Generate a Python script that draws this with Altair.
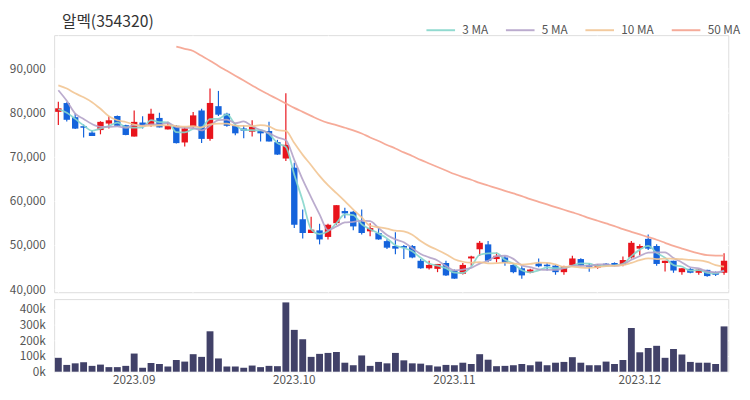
import altair as alt
import pandas as pd

# Trading days (Korea) Aug 21 – Dec 15, 2023
aug = [21, 22, 23, 24, 25, 28, 29, 30, 31]
sep = [1, 4, 5, 6, 7, 8, 11, 12, 13, 14, 15, 18, 19, 20, 21, 22, 25, 26, 27]
oct_ = [4, 5, 6, 10, 11, 12, 13, 16, 17, 18, 19, 20, 23, 24, 25, 26, 27, 30, 31]
nov = [1, 2, 3, 6, 7, 8, 9, 10, 13, 14, 15, 16, 17, 20, 21, 22, 23, 24, 27, 28, 29, 30]
dec = [1, 4, 5, 6, 7, 8, 11, 12, 13, 14, 15]
dates = ([f"2023-08-{d:02d}" for d in aug] + [f"2023-09-{d:02d}" for d in sep]
         + [f"2023-10-{d:02d}" for d in oct_] + [f"2023-11-{d:02d}" for d in nov]
         + [f"2023-12-{d:02d}" for d in dec])

title_text = ["알멕(354320)"]

opens = [80200, 82200, 79000, 76950, 75500, 76070, 77550, 79260, 77180, 74600,
         77780, 77180, 78820, 76220, 77040, 73260, 76820, 80510, 74070, 81490,
         79780, 77180, 76440, 75700, 75850, 75850, 73330, 69620, 67550, 55840,
         52730, 53330, 51840, 54960, 57710, 57550, 55330, 53110, 52730, 50890,
         49780, 49780, 49780, 46440, 44730, 44600, 45930, 44220, 43490, 46960,
         49040, 50150, 46820, 47180, 45490, 44730, 43710, 45840, 45550, 45330,
         43850, 45490, 46820, 45490, 44890, 45780, 45930, 45490, 47180, 49180,
         51400, 49780, 45930, 46440, 43850, 44600, 43710, 44370, 43850, 43710]
highs = [82500, 82400, 79800, 77330, 76060, 78070, 79260, 79400, 77300, 80510,
         79190, 80890, 80000, 77930, 77200, 76740, 80150, 80890, 85490, 84950,
         80000, 77600, 77180, 78290, 76060, 77930, 73850, 84440, 68660, 58060,
         56440, 54820, 54820, 59040, 58440, 57710, 58060, 54960, 54000, 51300,
         52890, 50000, 50000, 46820, 46440, 45710, 46440, 44440, 45930, 47560,
         50890, 50890, 48290, 47560, 45700, 45180, 44600, 46960, 45930, 45490,
         45330, 47560, 47000, 45930, 45700, 45930, 46070, 47400, 50890, 50150,
         52370, 50150, 46440, 46440, 44730, 44730, 44600, 44370, 44000, 48150]
lows = [77200, 78000, 76300, 74370, 74730, 75110, 76440, 77000, 74900, 74600,
        76440, 76820, 76670, 76220, 73000, 72370, 76600, 73110, 73620, 79260,
        76800, 74900, 74220, 74600, 73480, 73480, 70440, 69040, 53840, 51490,
        52730, 50150, 51270, 54600, 56070, 53330, 52370, 52000, 51200, 49100,
        47930, 46820, 47000, 44600, 44440, 43850, 42960, 42380, 43330, 45330,
        47560, 46070, 46070, 45330, 43600, 42380, 43600, 44960, 44220, 43260,
        43260, 45180, 45180, 43930, 44600, 45180, 45180, 45180, 46960, 47710,
        48890, 45330, 44000, 43710, 43260, 43600, 43260, 42820, 42960, 43260]
closes = [81000, 78400, 76400, 76600, 74730, 77930, 78290, 77040, 74960, 77930,
          77180, 79780, 76670, 77040, 73110, 76440, 79400, 74070, 82220, 79560,
          77040, 75330, 75930, 76820, 75330, 73480, 70510, 72730, 54600, 52730,
          53490, 51270, 54600, 59040, 57180, 54220, 52730, 53850, 51270, 49400,
          49180, 49400, 47180, 44730, 45490, 45710, 43110, 42380, 45490, 47400,
          50510, 46440, 47560, 45930, 43850, 43110, 44440, 45180, 45180, 43850,
          45180, 46960, 45330, 45040, 45490, 45330, 45330, 46600, 50510, 49780,
          49180, 45710, 46440, 44220, 44730, 43710, 44440, 42960, 43260, 46440]
volumes = [88000, 43000, 53000, 60000, 37000, 45000, 29000, 29000, 37000, 115000,
           25000, 55000, 49000, 33000, 74000, 64000, 111000, 94000, 256000, 84000,
           33000, 33000, 25000, 39000, 29000, 37000, 35000, 439000, 265000, 205000,
           94000, 113000, 119000, 125000, 57000, 41000, 103000, 37000, 62000, 53000,
           119000, 72000, 53000, 51000, 41000, 33000, 43000, 41000, 57000, 49000,
           111000, 76000, 35000, 37000, 41000, 49000, 41000, 64000, 41000, 57000,
           62000, 92000, 57000, 41000, 41000, 64000, 49000, 74000, 277000, 123000,
           150000, 164000, 88000, 144000, 109000, 62000, 57000, 57000, 49000, 287000]

ma3 = [80800, 80000, 78600, 77130, 75910, 76420, 76980, 77750, 76760, 76640,
       76690, 78300, 77880, 77830, 75610, 75530, 76320, 76640, 78560, 78620,
       79610, 77310, 76100, 76030, 76030, 75210, 73110, 72240, 65950, 60020,
       53610, 52500, 53120, 54970, 56940, 56810, 54710, 53600, 52620, 51510,
       49950, 49330, 48590, 47100, 45800, 45310, 44770, 43730, 43660, 45090,
       47800, 48120, 48170, 46640, 45780, 44300, 43800, 44240, 44930, 44740,
       44740, 45330, 45820, 45780, 45290, 45290, 45380, 45750, 47480, 48960,
       49820, 48220, 47110, 45460, 45130, 44220, 44290, 43700, 43550, 44220]
ma5 = [85100, 82700, 79800, 78600, 77430, 76810, 76790, 76920, 76590, 77230,
       77080, 77380, 77300, 77720, 76760, 76610, 76530, 76010, 77050, 78340,
       78460, 77640, 78020, 76940, 76090, 75380, 74410, 73770, 69330, 64810,
       60810, 56960, 53340, 54230, 55120, 55260, 55550, 55400, 53850, 52290,
       51290, 50620, 49290, 47980, 47200, 46500, 45240, 44280, 44440, 44820,
       45780, 46440, 47480, 47570, 46860, 45380, 44980, 44500, 44350, 44350,
       44770, 45270, 45300, 45270, 45600, 45630, 45300, 45560, 46650, 47510,
       48280, 48360, 48320, 47070, 46060, 44960, 44710, 44010, 43820, 44160]
ma10 = [86200, 85500, 84400, 83500, 82400, 80900, 79200, 78300, 77900, 77330,
        76950, 77080, 77110, 77160, 76990, 76840, 76960, 76660, 77380, 77550,
        77530, 77090, 77010, 76990, 77210, 76920, 76030, 75900, 73130, 70450,
        68100, 65690, 63560, 61780, 59960, 58040, 56260, 54370, 54040, 53710,
        53270, 53090, 52350, 50910, 49750, 48890, 47930, 46790, 46210, 46010,
        46140, 45840, 45880, 46000, 45840, 45580, 45710, 45990, 45960, 45610,
        45070, 45120, 44900, 44810, 44980, 45200, 45290, 45430, 45960, 46560,
        46960, 46830, 46940, 46860, 46780, 46620, 46530, 46170, 45440, 45110]
ma50 = [None] * 14 + [
        95000, 94500, 94000, 92900, 91800, 90600, 89500, 88400, 87300, 86200,
        85100, 84100, 83100, 82100, 81100, 80200, 79300, 78400, 77700, 77200,
        76600, 76000, 75300, 74400, 73600, 72700, 71900, 71000, 70200, 69300,
        68500, 67700, 66900, 66100, 65400, 64800, 64100, 63500, 62900, 62300,
        61700, 61100, 60400, 59800, 59200, 58600, 58000, 57400, 56800, 56100,
        55500, 54900, 54300, 53600, 53000, 52400, 51800, 51200, 50500, 49800,
        49200, 48600, 48100, 47700, 47600, 47600]

ma_names = ["3 MA", "5 MA", "10 MA", "50 MA"]
ma_colors = ["#86d6cc", "#b4a3c9", "#f2c594", "#f5a28e"]
month_ticks = ["2023-09-01", "2023-10-04", "2023-11-01", "2023-12-01"]
price_ticks = [40000, 50000, 60000, 70000, 80000, 90000]
volume_ticks = [0, 100000, 200000, 300000, 400000]

df = pd.DataFrame({"date": dates, "open": opens, "high": highs, "low": lows,
                   "close": closes, "volume": volumes})
df["dir"] = ["up" if c >= o else "down" for o, c in zip(opens, closes)]

rows = []
for name, arr in zip(ma_names, [ma3, ma5, ma10, ma50]):
    for d, v in zip(dates, arr):
        if v is not None:
            rows.append({"date": d, "ma": name, "value": v})
ma_df = pd.DataFrame(rows)

FONT = "Noto Sans CJK KR"
W = 687
xscale = alt.Scale(domain=dates, paddingInner=0, paddingOuter=0)
pscale = alt.Scale(domain=[39300, 97600], nice=False, zero=False)
vscale = alt.Scale(domain=[0, 460000], nice=False)

grid_dates = [dates[i] for i in range(0, len(dates), 16)]
x_price = alt.X("date:O", scale=xscale, title=None,
                axis=alt.Axis(values=grid_dates, labels=False, ticks=False, domain=False,
                              grid=True, gridColor="#ffffff", gridWidth=1))
y_price_axis = alt.Axis(values=price_ticks, format=",d", grid=True, gridColor="#ffffff",
                        gridWidth=1, domain=False, ticks=False, labelPadding=9,
                        labelColor="#555555", labelFontSize=12, labelFont=FONT, title=None)
dir_color = alt.Color("dir:N", scale=alt.Scale(domain=["up", "down"],
                                               range=["#e8141c", "#1463dc"]), legend=None)

wick = alt.Chart(df).mark_rule(strokeWidth=1.2).encode(
    x=x_price,
    y=alt.Y("low:Q", scale=pscale, axis=y_price_axis),
    y2="high:Q",
    color=dir_color,
)
body = alt.Chart(df).mark_bar(size=6.5).encode(
    x=x_price,
    y=alt.Y("open:Q", scale=pscale),
    y2="close:Q",
    color=dir_color,
)
lines = alt.Chart(ma_df).mark_line(interpolate="monotone", strokeWidth=1.8, opacity=0.9).encode(
    x=x_price,
    y=alt.Y("value:Q", scale=pscale),
    color=alt.Color("ma:N", sort=ma_names,
                    scale=alt.Scale(domain=ma_names, range=ma_colors),
                    legend=alt.Legend(orient="none", direction="horizontal", legendX=378,
                                      legendY=-21, title=None, symbolType="M-1,0L1,0",
                                      symbolStrokeWidth=2, symbolSize=850,
                                      labelFontSize=12, labelFont=FONT,
                                      labelColor="#555555", columnPadding=13,
                                      labelOffset=6, symbolOffset=0)),
    detail="ma:N",
)
title = alt.Chart(pd.DataFrame({"t": title_text})).mark_text(
    align="left", baseline="alphabetic", fontSize=16, font=FONT, color="#333333"
).encode(text="t:N", x=alt.value(8), y=alt.value(-8))

price = alt.layer(wick, body, lines, title).resolve_scale(color="independent").properties(
    width=W, height=262,
)

volume = alt.Chart(df).mark_bar(size=7, color="#414168").encode(
    x=alt.X("date:O", scale=xscale, title=None,
            axis=alt.Axis(values=month_ticks, labelExpr="replace(slice(datum.value, 0, 7), '-', '.')",
                          ticks=False, domain=False, grid=False, labelAngle=0,
                          labelColor="#555555", labelFontSize=12, labelFont=FONT,
                          labelPadding=3)),
    y=alt.Y("volume:Q", scale=vscale,
            axis=alt.Axis(values=volume_ticks, format="~s", grid=True, gridColor="#ffffff",
                          domain=False, ticks=False, labelPadding=9, labelColor="#555555",
                          labelFontSize=12, labelFont=FONT, title=None)),
).properties(width=W, height=74)

chart = alt.vconcat(price, volume, spacing=2).properties(
    padding={"left": 0, "top": 2, "right": 0, "bottom": 0}
).configure_view(
    fill="#f5f5f7", stroke=None
).configure(background="#ffffff")

chart.save("out.html", embed_options={"renderer": "svg", "actions": False})
